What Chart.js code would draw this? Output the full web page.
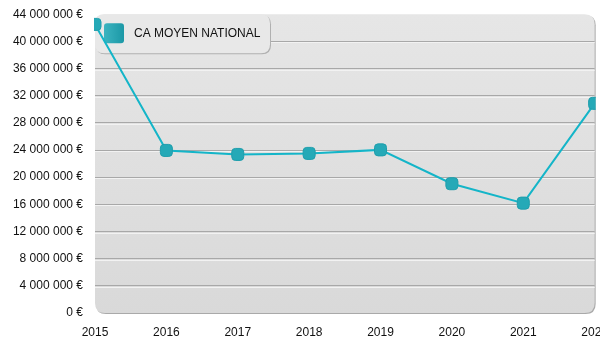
<!DOCTYPE html>
<html>
<head>
<meta charset="utf-8">
<script src="https://cdn.jsdelivr.net/npm/chart.js@4.4.1/dist/chart.umd.min.js"></script>
<style>
    html, body { margin: 0; padding: 0; background: #fff; overflow: hidden; }
    #wrap { width: 620px; height: 355px; margin-top: -5px; }
</style>
</head>
<body>
<div id="wrap"><canvas id="caChart"></canvas></div>
<script>
    // donnees
    var annees = ["2015", "2016", "2017", "2018", "2019", "2020", "2021", "2022"];
    var caMoyen = [42500000, 23940000, 23350000, 23500000, 24020000, 19040000, 16180000, 30870000];
    var serieLabel = "CA MOYEN NATIONAL";
    var yMax = 44000000;
    var yStep = 4000000;

    function formatEuro(v) {
        return String(v).replace(/\B(?=(\d{3})+(?!\d))/g, " ") + " €";
    }

    function roundRect(ctx, x, y, w, h, r) {
        ctx.beginPath();
        ctx.moveTo(x + r, y);
        ctx.lineTo(x + w - r, y);
        ctx.quadraticCurveTo(x + w, y, x + w, y + r);
        ctx.lineTo(x + w, y + h - r);
        ctx.quadraticCurveTo(x + w, y + h, x + w - r, y + h);
        ctx.lineTo(x + r, y + h);
        ctx.quadraticCurveTo(x, y + h, x, y + h - r);
        ctx.lineTo(x, y + r);
        ctx.quadraticCurveTo(x, y, x + r, y);
        ctx.closePath();
    }

    var fondPlugin = {
        id: "fond",
        beforeDraw: function(chart) {
            var ctx = chart.ctx, a = chart.chartArea;
            ctx.save();
            // ombre
            ctx.fillStyle = "#a9a9a9";
            roundRect(ctx, a.left + 1, a.top + 1, a.right - a.left, a.bottom - a.top, 10);
            ctx.fill();
            var g = ctx.createLinearGradient(0, a.top, 0, a.bottom);
            g.addColorStop(0, "#e6e6e6");
            g.addColorStop(1, "#d9d9d9");
            ctx.fillStyle = g;
            roundRect(ctx, a.left, a.top, a.right - a.left, a.bottom - a.top, 10);
            ctx.fill();
            ctx.restore();
        },
        beforeDatasetsDraw: function(chart) {
            var ctx = chart.ctx, a = chart.chartArea, y = chart.scales.y;
            ctx.save();
            // reflet clair sous chaque ligne de grille
            ctx.strokeStyle = "#f2f2f2";
            ctx.lineWidth = 1;
            for (var v = yStep; v < yMax; v += yStep) {
                var py = Math.round(y.getPixelForValue(v)) + 1.5;
                ctx.beginPath();
                ctx.moveTo(a.left, py);
                ctx.lineTo(a.right, py);
                ctx.stroke();
            }
            // legende
            var lx = a.left, ly = a.top, lw = 175, lh = 39;
            ctx.fillStyle = "#b0b0b0";
            roundRect(ctx, lx + 1, ly + 1, lw, lh, 9);
            ctx.fill();
            ctx.fillStyle = "#e8e8e8";
            roundRect(ctx, lx, ly, lw, lh, 9);
            ctx.fill();
            var sg = ctx.createLinearGradient(lx + 9, 0, lx + 29, 0);
            sg.addColorStop(0, "#3cb4c0");
            sg.addColorStop(1, "#1b98a6");
            ctx.fillStyle = sg;
            roundRect(ctx, lx + 9, ly + 9, 20, 20, 3);
            ctx.fill();
            ctx.fillStyle = "#111";
            ctx.font = "12px 'Liberation Sans', Arial, sans-serif";
            ctx.textBaseline = "middle";
            ctx.fillText(serieLabel, lx + 39, ly + 19.5);
            ctx.restore();
        }
    };

    var ctx = document.getElementById("caChart").getContext("2d");
    new Chart(ctx, {
        type: "line",
        data: {
            labels: annees,
            datasets: [{
                label: serieLabel,
                data: caMoyen,
                clip: 1,
                borderColor: "#14b5c8",
                borderWidth: 2,
                tension: 0,
                pointStyle: "rectRounded",
                pointRadius: 7,
                pointHoverRadius: 7,
                pointBackgroundColor: "#25a9b7",
                pointBorderColor: "#1e9eac",
                pointBorderWidth: 1
            }]
        },
        options: {
            responsive: true,
            maintainAspectRatio: false,
            animation: false,
            layout: { padding: 0 },
            plugins: {
                legend: { display: false },
                tooltip: { enabled: false }
            },
            scales: {
                x: {
                    offset: false,
                    border: { display: false },
                    grid: { display: false, drawTicks: false },
                    ticks: {
                        padding: 12,
                        color: "#111",
                        maxRotation: 0,
                        autoSkip: false,
                        font: { family: "'Liberation Sans', Arial, sans-serif", size: 12 }
                    },
                    afterFit: function(s) { s.height = 37; }
                },
                y: {
                    min: 0,
                    max: yMax,
                    border: { display: false },
                    grid: {
                        drawTicks: false,
                        lineWidth: 1,
                        color: function(c) {
                            var v = c.tick ? c.tick.value : 0;
                            return (v === 0 || v === yMax) ? "rgba(0,0,0,0)" : "#a8a8a8";
                        }
                    },
                    ticks: {
                        stepSize: yStep,
                        padding: 12,
                        color: "#111",
                        font: { family: "'Liberation Sans', Arial, sans-serif", size: 12 },
                        callback: function(v) { return formatEuro(v); }
                    },
                    afterFit: function(s) { s.width = 95; }
                }
            }
        },
        plugins: [fondPlugin]
    });
</script>
</body>
</html>
